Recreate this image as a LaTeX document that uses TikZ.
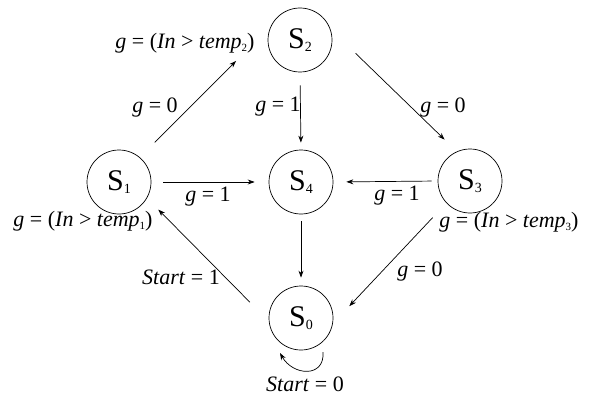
\documentclass[tikz,border=0pt]{standalone}
\usepackage{fontspec}
\setmainfont{Liberation Serif}
\usetikzlibrary{arrows.meta}
\newcommand{\lowidx}[1]{\raisebox{-0.3ex}{\fontsize{11}{11}\selectfont #1}}
\newcommand{\stname}[1]{S\raisebox{-0.25ex}{\fontsize{14}{14}\selectfont #1}}
\begin{document}
\begin{tikzpicture}[x=1pt, y=-1pt, >={Stealth[length=7pt,width=5pt]},
  state/.style={circle, draw, line width=0.7pt, minimum size=64pt, inner sep=0pt, font=\fontsize{30}{34}\selectfont},
  lbl/.style={inner sep=0pt, font=\fontsize{22}{26}\selectfont},
  arr/.style={->, line width=0.7pt}]
\useasboundingbox (0,0) rectangle (592,396);
\node[state] (S2) at (300,40) {\stname{2}};\node[state] (S1) at (119,182) {\stname{1}};
\node[state] (S4) at (301,182) {\stname{4}};\node[state] (S3) at (470,181) {\stname{3}};
\node[state] (S0) at (301,318) {\stname{0}};
% transitions
\draw[arr, shorten <=21pt, shorten >=49pt] (S1.50) -- (S2.155);
\draw[arr, shorten <=35pt, shorten >=17pt] (S2.20) -- (S3.114);
\draw[arr, shorten <=13pt, shorten >=7pt] (S2.south) -- (S4.north);
\draw[arr, shorten <=12pt, shorten >=14pt] (S1.east) -- (S4.west);
\draw[arr, shorten <=6pt, shorten >=13pt] (S3.west) -- (S4.east);
\draw[arr, shorten <=7pt, shorten >=8pt] (S4.south) -- (S0.north);
\draw[arr, shorten <=20pt, shorten >=24pt] (S3.223) -- (S0.350);
\draw[arr, shorten <=27pt, shorten >=16pt] (S0.186) -- (S1.330);
\draw[arr] ([xshift=22pt,yshift=-34pt]S0.center) .. controls +(2,26) and +(13,23) .. ([xshift=-21pt,yshift=-35pt]S0.center);
% labels
\node[lbl] (gS2) at (185,43) {\textit{g} = (\textit{In} > \textit{temp}\lowidx{2})};
\node[lbl] (gS1) at (83,221) {\textit{g} = (\textit{In} > \textit{temp}\lowidx{1})};
\node[lbl] (gS3) at (509,222) {\textit{g} = (\textit{In} > \textit{temp}\lowidx{3})};
\node[lbl] (t12) at (155,108) {\textit{g} = 0};\node[lbl] (t24) at (278,107) {\textit{g} = 1};
\node[lbl] (t23) at (443,108) {\textit{g} = 0};\node[lbl] (t14) at (208,197) {\textit{g} = 1};
\node[lbl] (t34) at (397,196) {\textit{g} = 1};\node[lbl] (t30) at (420,272) {\textit{g} = 0};
\node[lbl] (t01) at (181,277) {\textit{Start} = 1};\node[lbl] (t00) at (305,384) {\textit{Start} = 0};
\end{tikzpicture}
\end{document}
